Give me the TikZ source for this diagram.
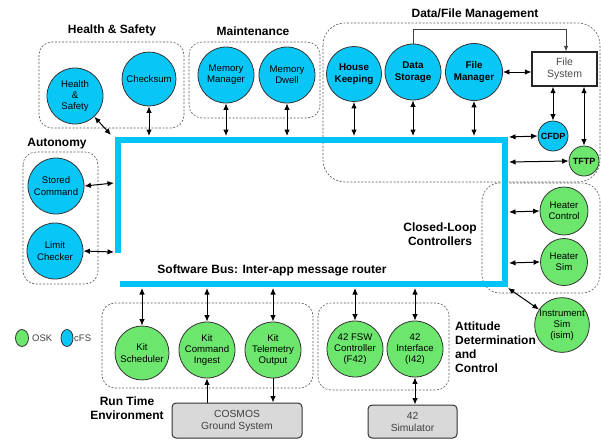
\documentclass[tikz,border=0pt]{standalone}
\usepackage{fontspec}
\setmainfont{Liberation Sans}
\usetikzlibrary{arrows.meta,shapes.geometric,calc}
\definecolor{cfscyan}{HTML}{08C6F5}
\definecolor{oskgreen}{HTML}{6CE66C}
\definecolor{buscyan}{HTML}{00C4F6}
\definecolor{boxgray}{HTML}{D9D9D9}
\tikzset{
  app/.style={circle, draw=black!80, line width=0.8pt, inner sep=0pt, align=center,
              font=\fontsize{9.6}{11.2}\selectfont},
  cfs/.style={app, fill=cfscyan},
  osk/.style={app, fill=oskgreen},
  appbold/.style={font=\bfseries\fontsize{9.8}{11.6}\selectfont},
  grp/.style={draw=black!65, line width=0.6pt, dash pattern=on 2pt off 1.6pt, rounded corners=13pt},
  grptitle/.style={font=\bfseries\fontsize{12}{14}\selectfont, align=center, inner sep=0pt},
  tip/.tip={Latex[length=6.5pt,width=5.5pt]},
  link/.style={tip-tip, line width=1pt},
  arr/.style={-tip, line width=1pt},
  bus/.style={draw=buscyan, line width=5.5pt, line join=miter},
  ground/.style={draw=black!80, fill=boxgray, line width=1pt, rounded corners=4pt,
                 align=center, text=black!75, font=\fontsize{10.3}{12}\selectfont}
}
\begin{document}
\begin{tikzpicture}[x=1pt,y=-1pt]
\useasboundingbox (0,0) rectangle (601,440);

% group frames
\draw[grp] (39,42) rectangle (184,128);
\draw[grp] (189,42) rectangle (320,118);
\draw[grp, rounded corners=22pt] (323,23) rectangle (600,182);
\draw[grp] (23,152) rectangle (98,284);
\draw[grp, rounded corners=18pt] (482,183) rectangle (600,293);
\draw[grp] (318,303) rectangle (449,390);
\draw[grp] (102,303) rectangle (313,388);

% group titles
\node[grptitle] (tHS) at (112,30) {Health \& Safety};
\node[grptitle] (tMT) at (253,31) {Maintenance};
\node[grptitle] (tDF) at (475,14) {Data/File Management};
\node[grptitle] (tAU) at (57,144) {Autonomy};
\node[grptitle] (tCL) at (440,234) {Closed-Loop\\Controllers};
\node[grptitle] (tSB) at (272,270) {Software Bus: Inter-app message router};
\node[grptitle, align=left, anchor=north west] (tAD) at (455,322) {Attitude\\Determination\\and\\Control};
\node[grptitle] (tRT) at (127,408) {Run Time\\Environment};

% software bus
\draw[bus] (118,253) -- (118,140) -- (505,140) -- (505,284) -- (120,284);

% cFS applications
\node[cfs, minimum size=56pt] (hs) at (75,96) {Health\\\&\\Safety};
\node[cfs, minimum size=54pt] (cs) at (149,79) {Checksum};
\node[cfs, minimum size=56pt] (mm) at (226,75) {Memory\\Manager};
\node[cfs, minimum size=56pt] (md) at (287,75) {Memory\\Dwell};
\node[cfs, appbold, minimum size=55pt] (hk) at (354,74) {House\\Keeping};
\node[cfs, appbold, minimum size=56pt] (ds) at (413,72) {Data\\Storage};
\node[cfs, appbold, minimum size=57pt] (fm) at (474,72) {File\\Manager};
\node[cfs, minimum size=30pt, font=\bfseries\fontsize{9}{11}\selectfont] (cfdp) at (553,136) {CFDP};
\node[cfs, minimum size=56pt] (sc) at (56,186) {Stored\\Command};
\node[cfs, minimum size=56pt] (lc) at (55,251) {Limit\\Checker};

% OSK applications
\node[osk, minimum size=30pt, font=\bfseries\fontsize{9}{11}\selectfont] (tftp) at (584,161) {TFTP};
\node[osk, minimum size=48pt] (hc) at (564,211) {Heater\\Control};
\node[osk, minimum size=47pt] (hsim) at (564,262) {Heater\\Sim};
\node[osk, minimum size=54pt] (isim) at (562,325) {Instrument\\Sim\\(isim)};
\node[osk, minimum size=56pt] (f42) at (355,349) {42 FSW\\Controller\\(F42)};
\node[osk, minimum size=56pt] (i42) at (415,349) {42\\Interface\\(I42)};
\node[osk, minimum size=54pt] (ks) at (142,353) {Kit\\Scheduler};
\node[osk, minimum size=56pt] (kci) at (207,350) {Kit\\Command\\Ingest};
\node[osk, minimum size=56pt] (kto) at (273,350) {Kit\\Telemetry\\Output};

% file system and ground boxes
\node[draw=black!85, line width=1.3pt, fill=white, minimum width=65pt, minimum height=34pt,
      align=center, text=black!70, font=\fontsize{10.5}{12.5}\selectfont] (fsys) at (564.5,69) {File\\System};
\node[ground, minimum width=130pt, minimum height=35pt] (cosmos) at (237,420.5) {COSMOS\\Ground System};
\node[ground, minimum width=89pt, minimum height=33pt] (sim) at (412.5,421.5) {42\\Simulator};

% legend
\node[osk, ellipse, minimum width=13pt, minimum height=17pt] (lgOSK) at (22,338) {};
\node[anchor=west, inner sep=0pt, text=black!75, font=\fontsize{9.5}{11}\selectfont] (lgOSKt) at (32,338) {OSK};
\node[cfs, ellipse, minimum width=12pt, minimum height=17pt] (lgCFS) at (67,338) {};
\node[anchor=west, inner sep=0pt, text=black!75, font=\fontsize{9.5}{11}\selectfont] (lgCFSt) at (74,338) {cFS};

% bus attachment points
\coordinate (bHS) at (111,135);
\coordinate (bCS) at (cs |- 0,136);
\coordinate (bMM) at (mm |- 0,136);
\coordinate (bMD) at (md |- 0,136);
\coordinate (bHK) at (hk |- 0,136);
\coordinate (bDS) at (ds |- 0,136);
\coordinate (bFM) at (fm |- 0,136);
\coordinate (bSC) at (114,183);
\coordinate (bLC) at (114,252);
\coordinate (bCF) at (509,137);
\coordinate (bTF) at (509,162);
\coordinate (bHC) at (509,212);
\coordinate (bHSm) at (509,263);
\coordinate (bIS) at (508,288);
\coordinate (bKS) at (ks |- 0,288);
\coordinate (bKCI) at (kci |- 0,288);
\coordinate (bKTO) at (kto |- 0,288);
\coordinate (bF42) at (f42 |- 0,288);
\coordinate (bI42) at (i42 |- 0,288);
\coordinate (fsTop) at (566,29);

% bus connections
\draw[link] (hs.-47) -- (bHS);
\draw[link] (cs.south) -- (bCS);
\draw[link] (mm.south) -- (bMM);
\draw[link] (md.south) -- (bMD);
\draw[link] (hk.south) -- (bHK);
\draw[link] (ds.south) -- (bDS);
\draw[link] (fm.south) -- (bFM);
\draw[link] (sc.east) -- (bSC);
\draw[link] (lc.east) -- (bLC);
\draw[link] (bCF) -- (cfdp.west);
\draw[link] (bTF) -- (tftp.west);
\draw[link] (bHC) -- (hc.west);
\draw[link] (bHSm) -- (hsim.west);
\draw[link] (bIS) -- (isim.146);
\draw[link] (bKS) -- (ks.north);
\draw[link] (bKCI) -- (kci.north);
\draw[link] (bKTO) -- (kto.north);
\draw[link] (bF42) -- (f42.north);
\draw[link] (bI42) -- (i42.north);

% file handling links
\draw[-{Latex[length=5.5pt,width=4.5pt]}, line width=0.8pt, draw=black!75] (ds.north) |- (fsTop) -- (fsTop |- fsys.north);
\draw[link] (fm.east) -- (fm.east -| fsys.west);
\draw[link] (fsys.south -| cfdp) -- (cfdp.north);
\draw[link] (fsys.south -| tftp) -- (tftp.north);

% ground links
\draw[arr] (cosmos.north -| kci) -- (kci.south);
\draw[arr] (kto.south) -- (kto.south |- cosmos.north);
\draw[link] (i42.south) -- (i42.south |- sim.north);
\end{tikzpicture}
\end{document}
